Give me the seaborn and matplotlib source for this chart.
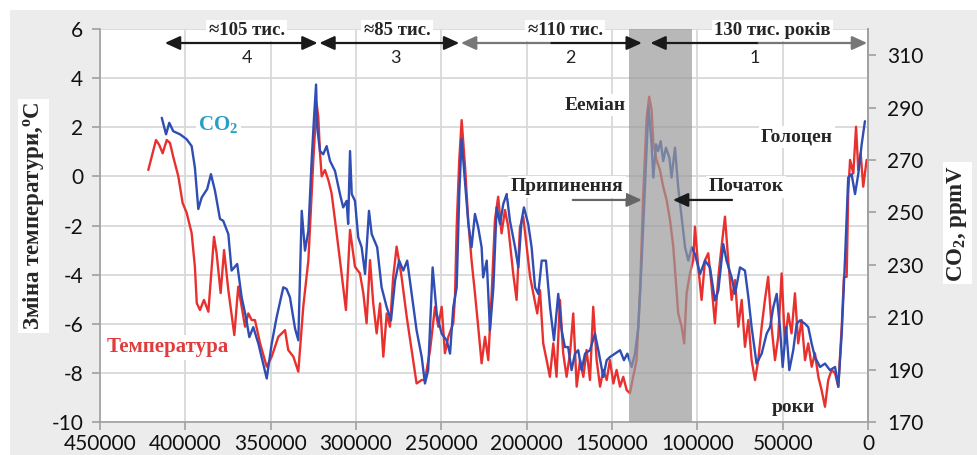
import numpy as np
import matplotlib
matplotlib.use('Agg')
import matplotlib.pyplot as plt
from matplotlib.patches import Rectangle
import seaborn as sns

# температура (Восток), тис. років тому / °C
temp_ka = [421.7, 419.7, 417.2, 415.3, 413.3, 410.9, 409.0, 407.1, 404.1, 401.6,
           399.2, 396.3, 394.4, 393.3, 391.4, 389.1, 386.5, 383.2, 381.7, 379.3,
           377.3, 374.8, 371.3, 369.0, 365.0, 363.1, 361.1, 359.2, 356.2, 352.3,
           349.4, 345.5, 341.6, 339.7, 336.7, 333.8, 330.9, 327.9, 325.0, 323.1,
           322.1, 321.1, 320.1, 318.2, 316.2, 314.3, 312.3, 309.4, 305.9, 303.5,
           300.6, 297.7, 295.7, 293.8, 291.8, 289.9, 287.9, 285.9, 284.0, 282.0,
           280.1, 278.2, 276.2, 273.3, 270.3, 267.4, 264.5, 261.5, 259.6, 256.6,
           253.7, 251.8, 249.8, 247.9, 245.9, 243.0, 242.0, 241.0, 239.5, 238.1,
           236.1, 234.2, 232.3, 230.3, 228.4, 226.4, 224.4, 222.5, 220.5, 218.6,
           216.7, 214.7, 212.7, 210.8, 207.9, 205.9, 203.9, 202.0, 200.0, 198.0,
           196.1, 193.8, 192.2, 190.3, 188.3, 186.4, 184.4, 182.5, 180.5, 178.6,
           176.6, 174.6, 172.7, 170.7, 168.7, 166.8, 164.9, 162.9, 161.0, 159.0,
           157.0, 155.1, 153.1, 151.2, 149.2, 147.3, 145.3, 143.4, 141.4, 139.5,
           137.6, 135.6, 133.6, 131.7, 129.7, 128.2, 126.8, 125.8, 123.9, 121.9,
           120.0, 118.0, 116.0, 114.1, 112.1, 111.2, 109.2, 107.7, 106.3, 104.3,
           102.4, 101.4, 99.5, 97.5, 95.5, 93.6, 91.6, 89.7, 87.7, 85.8,
           83.8, 81.9, 79.9, 77.9, 76.0, 74.0, 72.1, 70.1, 68.2, 66.2,
           64.3, 62.3, 60.4, 58.5, 56.5, 54.5, 52.6, 50.6, 48.7, 46.7,
           44.8, 42.8, 40.9, 38.9, 36.9, 35.0, 33.0, 31.1, 29.1, 27.2,
           25.2, 23.3, 21.3, 19.3, 17.4, 15.4, 14.1, 12.5, 11.6, 10.5,
           8.6, 7.0, 5.7, 4.3, 2.8, 0.8]
temp_val = [0.26, 0.8, 1.48, 1.28, 0.94, 1.48, 1.36, 0.8, 0.0, -1.08,
            -1.49, -2.31, -3.68, -5.16, -5.44, -5.03, -5.51, -2.46, -3.12, -4.75,
            -3.0, -4.63, -6.46, -4.49, -6.12, -5.58, -5.85, -5.85, -6.8, -7.75,
            -7.34, -6.53, -6.26, -7.07, -7.34, -7.95, -5.31, -3.41, 0.67, 2.97,
            2.43, 0.95, 0.0, 0.26, -0.15, -0.69, -1.78, -3.41, -5.44, -2.18,
            -3.68, -3.95, -4.76, -5.98, -3.41, -5.17, -6.39, -5.17, -7.34, -5.58,
            -6.12, -4.09, -2.86, -4.09, -5.71, -7.07, -8.43, -8.29, -8.29, -7.07,
            -5.31, -6.12, -5.31, -7.2, -6.53, -5.98, -4.9, -2.05, 0.67, 2.29,
            0.39, -1.86, -3.41, -4.76, -6.12, -7.61, -6.53, -7.48, -4.76, -1.78,
            -0.83, -2.32, -1.37, -2.05, -3.95, -5.03, -2.05, -1.64, -2.86, -4.09,
            -4.76, -5.58, -4.63, -6.8, -7.48, -8.16, -6.8, -8.16, -5.03, -7.2,
            -8.16, -7.2, -5.58, -8.56, -7.48, -8.16, -7.07, -8.29, -5.31, -7.48,
            -8.56, -7.88, -8.29, -7.48, -8.43, -7.88, -8.56, -8.16, -8.7, -8.83,
            -8.16, -7.48, -4.76, -0.69, 2.38, 3.24, 2.7, 1.35, 0.67, 0.26,
            -0.42, -0.96, -1.78, -2.86, -4.76, -5.58, -6.12, -6.8, -4.76, -3.95,
            -3.41, -2.05, -3.68, -5.03, -3.41, -3.13, -4.49, -5.98, -4.09, -2.86,
            -1.64, -3.41, -5.03, -4.22, -6.12, -5.03, -6.94, -5.85, -7.48, -8.29,
            -7.48, -6.12, -5.03, -4.09, -6.12, -7.48, -6.53, -3.95, -6.8, -5.58,
            -6.39, -4.76, -6.8, -5.85, -7.48, -6.8, -7.75, -7.2, -8.16, -8.7,
            -9.38, -8.29, -7.88, -8.02, -8.56, -6.12, -4.09, -4.09, -0.69, 0.67,
            0.12, 2.02, 0.26, 0.94, -0.42, 0.67]

# CO2, тис. років тому / ppmV
co2_ka = [413.8, 411.3, 409.4, 407.1, 403.1, 399.2, 396.3, 394.4, 392.4, 390.4,
          387.2, 385.0, 382.6, 379.7, 377.8, 374.8, 372.9, 369.6, 367.0, 364.5,
          362.5, 360.2, 357.2, 352.3, 349.4, 346.5, 342.6, 340.7, 338.7, 335.7,
          333.8, 331.8, 329.9, 327.9, 326.0, 324.6, 323.4, 322.7, 321.1, 319.2,
          317.2, 315.2, 312.3, 309.4, 307.5, 305.5, 304.6, 303.5, 302.5, 300.6,
          298.7, 296.7, 294.7, 292.4, 290.8, 287.6, 285.0, 282.0, 279.5, 277.1,
          274.7, 272.3, 270.0, 267.4, 264.5, 261.5, 259.6, 257.7, 255.1, 252.7,
          249.8, 246.9, 244.9, 243.0, 241.0, 239.5, 238.1, 236.1, 234.2, 232.3,
          230.3, 228.4, 226.4, 225.5, 223.4, 221.5, 219.5, 217.6, 215.6, 213.7,
          211.7, 209.8, 206.8, 204.9, 203.0, 201.6, 199.1, 197.1, 195.1, 193.2,
          191.2, 188.7, 186.3, 184.0, 181.5, 179.5, 177.6, 175.7, 173.7, 171.7,
          169.8, 167.8, 165.8, 162.9, 160.0, 158.0, 155.1, 153.1, 151.2, 148.2,
          145.3, 143.0, 141.0, 138.5, 136.5, 134.6, 132.6, 130.7, 128.6, 126.8,
          125.8, 124.2, 123.0, 121.5, 120.0, 118.4, 116.4, 115.1, 113.1, 111.2,
          109.2, 107.2, 105.3, 103.3, 101.4, 98.4, 95.5, 92.6, 89.7, 87.7,
          84.8, 82.9, 79.9, 77.9, 75.0, 72.1, 70.1, 68.2, 65.3, 62.3,
          59.4, 57.4, 55.5, 53.5, 51.6, 50.0, 48.0, 46.1, 43.8, 41.8,
          39.8, 36.9, 35.0, 33.0, 31.1, 28.1, 25.2, 22.3, 19.3, 17.4,
          15.4, 13.5, 11.6, 9.6, 7.6, 5.7, 3.7, 1.8]
co2_val = [286.1, 279.8, 284.2, 281.0, 279.8, 277.9, 275.3, 267.1, 251.3, 255.7,
           258.9, 264.6, 258.2, 247.5, 246.8, 241.7, 227.8, 230.3, 217.6, 210.0,
           202.4, 206.2, 199.9, 186.6, 199.9, 210.0, 221.4, 220.8, 217.6, 205.6,
           201.2, 250.6, 235.4, 243.0, 269.6, 286.1, 298.8, 282.3, 273.4, 272.2,
           275.3, 269.6, 265.8, 257.0, 251.9, 254.4, 245.6, 273.4, 257.0, 254.4,
           240.5, 236.7, 226.5, 250.6, 241.7, 236.7, 221.4, 213.8, 208.8, 224.0,
           231.6, 227.8, 231.6, 218.9, 205.0, 194.8, 184.7, 189.8, 229.0, 211.3,
           203.7, 201.2, 196.1, 213.8, 221.4, 257.0, 278.0, 261.3, 246.0, 236.7,
           249.4, 244.3, 236.7, 225.2, 231.6, 205.0, 221.4, 251.9, 245.6, 253.2,
           257.0, 246.8, 236.7, 229.0, 246.8, 251.9, 245.6, 236.7, 221.4, 218.9,
           231.6, 231.6, 213.8, 201.2, 218.9, 205.0, 198.6, 198.6, 189.8, 196.1,
           197.4, 189.8, 196.1, 197.4, 203.7, 197.4, 187.2, 193.6, 194.8, 196.1,
           197.4, 193.6, 196.1, 191.0, 196.1, 206.2, 231.6, 259.5, 290.5, 276.0,
           263.3, 276.0, 273.4, 277.2, 269.6, 274.7, 270.9, 263.3, 274.7, 259.5,
           248.1, 236.7, 231.6, 236.7, 234.1, 226.5, 231.6, 229.0, 216.4, 220.2,
           237.9, 231.6, 225.2, 218.9, 229.0, 227.8, 217.6, 206.2, 192.3, 196.1,
           203.7, 206.2, 213.8, 218.9, 206.2, 191.0, 206.2, 189.8, 197.4, 207.5,
           208.8, 207.5, 206.2, 199.9, 194.8, 191.0, 192.3, 189.8, 191.0, 183.4,
           203.7, 231.6, 263.3, 264.6, 257.0, 264.6, 276.0, 284.8]

x_ticks = [450000, 400000, 350000, 300000, 250000, 200000, 150000, 100000, 50000, 0]
t_ticks = [-10, -8, -6, -4, -2, 0, 2, 4, 6]
co2_ticks = [170, 190, 210, 230, 250, 270, 290, 310]

seg_titles = ['≈105 тис.', '≈85 тис.', '≈110 тис.', '130 тис. років']
seg_numbers = ['4', '3', '2', '1']

sns.set_theme(style='whitegrid')
plt.rcParams['font.family'] = ['Lato', 'DejaVu Sans']
plt.rcParams['axes.unicode_minus'] = False
plt.rcParams['mathtext.fontset'] = 'custom'
plt.rcParams['mathtext.rm'] = 'Liberation Serif'
plt.rcParams['mathtext.bf'] = 'Liberation Serif:bold'
plt.rcParams['mathtext.it'] = 'Liberation Serif:italic'

SERIF = ['Liberation Serif', 'DejaVu Serif']
RED = '#e8312f'
BLUE = '#2f4db3'
GRID = '#d9d9d9'
SPINE = '#a0a0a0'

fig, ax = plt.subplots(figsize=(9.78, 4.55), dpi=100)
fig.patch.set_facecolor('white')
fig.patches.append(Rectangle((10 / 978, 0), 1, 1 - 10 / 455, transform=fig.transFigure,
                             facecolor='#ececec', edgecolor='none', zorder=-10))
fig.subplots_adjust(left=100 / 978, right=868 / 978, top=1 - 29 / 455, bottom=1 - 422 / 455)

ax2 = ax.twinx()

sns.lineplot(x=np.array(temp_ka) * 1000, y=temp_val, ax=ax, color=RED, lw=1.7,
             sort=False, estimator=None)
sns.lineplot(x=np.array(co2_ka) * 1000, y=co2_val, ax=ax2, color=BLUE, lw=1.7,
             sort=False, estimator=None)

ax.set_xlim(450000, 0)
ax.set_ylim(-10, 6)
ax2.set_ylim(170, 320)
ax.set_xticks(x_ticks)
ax.set_xticklabels([str(v) for v in x_ticks])
ax.set_yticks(t_ticks)
ax.set_yticklabels([str(v) for v in t_ticks])
ax2.set_yticks(co2_ticks)
ax2.set_yticklabels([str(v) for v in co2_ticks])

ax.set_facecolor('white')
ax.grid(True, color=GRID, lw=1.3)
ax2.grid(False)
for s in ['left', 'bottom', 'right']:
    ax.spines[s].set_color(SPINE)
    ax.spines[s].set_linewidth(1.2)
ax.spines['top'].set_visible(False)
for s in ['left', 'bottom', 'top']:
    ax2.spines[s].set_visible(False)
ax2.spines['right'].set_color(SPINE)
ax2.spines['right'].set_linewidth(1.2)

ax.tick_params(axis='both', bottom=True, left=True, direction='out', length=6, width=1.2,
               color=SPINE, labelsize=15, labelcolor='#111111')
ax.tick_params(axis='x', pad=3)
ax.tick_params(axis='y', pad=6)
ax2.tick_params(axis='y', right=True, direction='out', length=6, width=1.2, color=SPINE,
                labelsize=15, labelcolor='#111111', pad=8)
ax.set_xlabel('')
ax.set_ylabel('')
ax2.set_ylabel('')

# сіра смуга (Ееміан)
ax2.axvspan(103000, 140000, color='#9a9a9a', alpha=0.7, lw=0, zorder=5)

T = ax.transData
box = dict(boxstyle='square,pad=0.12', fc='white', ec='none')


def half_arrow(x_from, x_to, y, color):
    ax2.annotate('', xy=(x_to, y), xycoords=T, xytext=(x_from, y), textcoords=T,
                 arrowprops=dict(arrowstyle='-|>,head_length=0.7,head_width=0.32',
                                 color=color, lw=1.6, mutation_scale=13,
                                 shrinkA=0, shrinkB=0), zorder=8)


arrows = [(412000, 322500, 'k', 'k'), (321500, 239500, 'k', 'k'),
          (238500, 132500, '#777777', 'k'), (127500, 500, 'k', '#777777')]
for x0, x1, c0, c1 in arrows:
    xm = (x0 + x1) / 2
    half_arrow(xm, x0, 5.43, c0)
    half_arrow(xm, x1, 5.43, c1)

for title, xc in zip(seg_titles, [364000, 276000, 177500, 56000]):
    ax2.text(xc, 5.93, title, transform=T, ha='center', va='center', family=SERIF,
             weight='bold', fontsize=13.5, bbox=box, zorder=9)
for num, xc in zip(seg_numbers, [364000, 277000, 174600, 66200]):
    ax2.text(xc, 4.8, num, transform=T, ha='center', va='center', fontsize=13,
             color='#222222', zorder=9)

ax2.text(380500, 2.1, r'CO$_{\mathbf{2}}$', transform=T, ha='center', va='center',
         family=SERIF, weight='bold', fontsize=15, color='#2a9ec4', bbox=box, zorder=9)
ax2.text(410500, -6.95, 'Температура', transform=T, ha='center', va='center',
         family=SERIF, weight='bold', fontsize=15, color='#e03c3c', bbox=box, zorder=9)
ax2.text(160000, 2.9, 'Ееміан', transform=T, ha='center', va='center',
         family=SERIF, weight='bold', fontsize=14, bbox=box, zorder=9)
ax2.text(41600, 1.6, 'Голоцен', transform=T, ha='center', va='center',
         family=SERIF, weight='bold', fontsize=14, bbox=box, zorder=9)
ax2.text(176400, -0.43, 'Припинення', transform=T, ha='center', va='center',
         family=SERIF, weight='bold', fontsize=14, bbox=box, zorder=9)
ax2.text(71500, -0.43, 'Початок', transform=T, ha='center', va='center',
         family=SERIF, weight='bold', fontsize=14, bbox=box, zorder=9)
ax2.text(44000, -9.43, 'роки', transform=T, ha='center', va='center',
         family=SERIF, weight='bold', fontsize=14, zorder=9)

half_arrow(173000, 132500, -0.96, '#666666')
half_arrow(79700, 114300, -0.96, 'k')

fig.text(0.034, 0.525, 'Зміна температури,$^{\\mathbf{o}}$C', rotation=90,
         ha='center', va='center', family=SERIF, weight='bold', fontsize=16.5, bbox=box)
fig.text(0.979, 0.51, 'CO$_{\\mathbf{2}}$, ppmV', rotation=90, ha='center', va='center',
         family=SERIF, weight='bold', fontsize=16.5, bbox=box)

fig.savefig('out.png', dpi=100, facecolor=fig.get_facecolor())
